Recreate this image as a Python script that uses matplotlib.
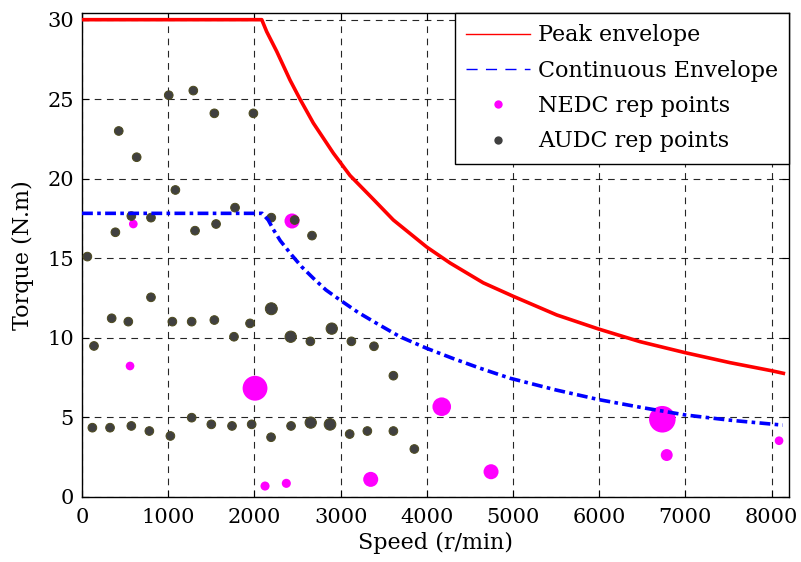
import matplotlib
matplotlib.use("Agg")
import matplotlib.pyplot as plt
from matplotlib.lines import Line2D

# Peak torque envelope (speed in r/min, torque in N.m)
peak_speed = [0, 2085, 2142, 2259, 2413, 2529, 2683, 2916, 3109, 3380, 3612,
              3999, 4269, 4655, 5004, 5507, 5990, 6473, 6995, 7517, 8001, 8136]
peak_torque = [30.0, 30.0, 29.25, 28.0, 26.2, 25.0, 23.5, 21.6, 20.2, 18.7, 17.4,
               15.7, 14.7, 13.45, 12.6, 11.43, 10.55, 9.75, 9.06, 8.43, 7.92, 7.76]

# Continuous torque envelope
cont_speed = [0, 2090, 2160, 2220, 2300, 2432, 2550, 2683, 2830, 2993, 3200,
              3418, 3689, 3999, 4300, 4617, 4965, 5500, 6000, 6500, 7000, 7500, 8130]
cont_torque = [17.82, 17.82, 17.4, 16.8, 16.1, 15.2, 14.45, 13.74, 13.0, 12.37, 11.6,
               10.9, 10.06, 9.33, 8.7, 8.08, 7.45, 6.71, 6.1, 5.6, 5.14, 4.82, 4.5]

# NEDC representative operating points and their relative weights
nedc_speed = [595, 557, 2007, 2123, 2370, 2436, 3349, 4173, 4745, 6732, 6783, 8086]
nedc_torque = [17.15, 8.22, 6.82, 0.67, 0.84, 17.34, 1.09, 5.66, 1.57, 4.87, 2.62, 3.52]
nedc_weight = [1.0, 1.0, 8.2, 1.1, 1.1, 3.0, 3.0, 4.6, 3.0, 9.4, 1.9, 1.0]

# AUDC representative operating points and their relative weights
audc_speed = [1006, 1291, 1535, 1988, 426, 634, 1083, 1775, 572, 800, 2196, 387,
              1311, 1555, 2467, 2668, 62,
              800, 344, 537, 1048, 1272, 1535, 1949, 2196, 1763, 139, 2421, 2649,
              2897, 3125, 3387, 3612,
              120, 325, 572, 781, 1025, 1272, 1500, 1740, 1968, 2193, 2425, 2653,
              2877, 3105, 3310, 3612, 3855]
audc_torque = [25.25, 25.54, 24.11, 24.11, 23.0, 21.35, 19.29, 18.18, 17.65, 17.55,
               17.55, 16.63, 16.73, 17.15, 17.40, 16.42, 15.1,
               12.54, 11.22, 11.01, 11.01, 11.01, 11.11, 10.9, 11.82, 10.06, 9.48,
               10.06, 9.77, 10.57, 9.77, 9.46, 7.61,
               4.34, 4.34, 4.45, 4.13, 3.82, 4.97, 4.55, 4.45, 4.55, 3.74, 4.45,
               4.66, 4.55, 3.94, 4.13, 4.13, 3.0]
audc_weight = [1.0] * 17 + \
              [1.0, 1.0, 1.0, 1.0, 1.0, 1.0, 1.0, 1.9, 1.0, 1.0, 1.7, 1.0,
               1.7, 1.0, 1.0, 1.0] + \
              [1.0] * 11 + [1.7, 1.8, 1.0, 1.0, 1.0, 1.0]

x_ticks = [0, 1000, 2000, 3000, 4000, 5000, 6000, 7000, 8000]
y_ticks = [0, 5, 10, 15, 20, 25, 30]

plt.rcParams["font.family"] = ["DejaVu Serif"]
plt.rcParams["font.size"] = 15
plt.rcParams["lines.solid_joinstyle"] = "round"
plt.rcParams["lines.dash_joinstyle"] = "round"

fig = plt.figure(figsize=(8.01, 5.62), dpi=100)
ax = fig.add_axes([0.1024, 0.1162, 0.883, 0.8601])

base_size = 39
ax.scatter(audc_speed, audc_torque, s=[base_size * w for w in audc_weight],
           facecolor="#404040", edgecolor="#4d4a1c", linewidth=0.7, zorder=3)
ax.scatter(nedc_speed, nedc_torque, s=[base_size * w for w in nedc_weight],
           facecolor="#ff00ff", edgecolor="none", zorder=2)

ax.plot(peak_speed, peak_torque, color="#ff0000", linewidth=2.6, zorder=4)
ax.plot(cont_speed, cont_torque, color="#0000ff", linewidth=2.6,
        linestyle=(0, (3.0, 1.2, 1.0, 1.2)), zorder=4)

ax.set_xlim(0, 8205)
ax.set_ylim(0, 30.4)
ax.set_xticks(x_ticks)
ax.set_yticks(y_ticks)
ax.grid(True, color="black", linestyle=(0, (6, 5)), linewidth=0.8, alpha=0.85)
ax.set_axisbelow(True)
ax.tick_params(direction="in", length=5, width=0.8, top=True, right=True,
               labelsize=15)
ax.tick_params(axis="x", pad=8)
ax.tick_params(axis="y", pad=6)
for sp in ax.spines.values():
    sp.set_linewidth(1.0)

ax.set_xlabel("Speed (r/min)", fontsize=16, labelpad=4)
ax.set_ylabel("Torque (N.m)", fontsize=16, labelpad=9)

handles = [
    Line2D([], [], color="#ff0000", linewidth=1.0),
    Line2D([], [], color="#0000ff", linewidth=1.0, linestyle=(0, (8, 6))),
    Line2D([], [], color="#ff00ff", marker="o", linestyle="none", markersize=6,
           markeredgecolor="none"),
    Line2D([], [], color="#404040", marker="o", linestyle="none", markersize=6,
           markeredgecolor="none"),
]
labels = ["Peak envelope", "Continuous Envelope", "NEDC rep points",
          "AUDC rep points"]
leg = ax.legend(handles, labels, loc="upper right", borderaxespad=0,
                fancybox=False, framealpha=1, edgecolor="black",
                handlelength=2.9, labelspacing=0.6, fontsize=16,
                borderpad=0.5, handletextpad=0.35)
leg.get_frame().set_linewidth(1.0)

fig.savefig("out.png", dpi=100)
